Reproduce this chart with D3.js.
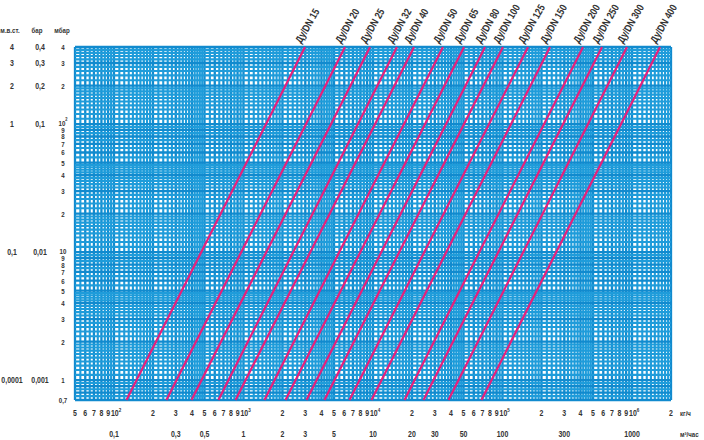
<!DOCTYPE html>
<html><head><meta charset="utf-8">
<script src="https://cdn.jsdelivr.net/npm/d3@7/dist/d3.min.js"></script>
<style>
body{margin:0;background:#fff;}
text{font-family:"Liberation Sans Narrow","Liberation Sans",Arial,sans-serif;fill:#333;font-weight:bold;}
</style></head>
<body>
<svg id="chart" width="704" height="440"></svg>
<script>
// ---- data ----
const dnLabels = ["Ду/DN 15","Ду/DN 20","Ду/DN 25","Ду/DN 32","Ду/DN 40","Ду/DN 50","Ду/DN 65","Ду/DN 80","Ду/DN 100","Ду/DN 125","Ду/DN 150","Ду/DN 200","Ду/DN 250","Ду/DN 300","Ду/DN 400"];
// flow (m³/h) at a pressure loss of 1 bar for each nominal diameter
const kvValues = [4.72, 9.61, 15.0, 24.2, 32.8, 54.9, 79.8, 115.9, 159.5, 248.9, 368, 662, 928, 1446, 2600];

const kgTicks = [50,60,70,80,90,100,200,300,400,500,600,700,800,900,1000,2000,3000,4000,5000,6000,7000,8000,9000,10000,20000,30000,40000,50000,60000,70000,80000,90000,100000,200000,300000,400000,500000,600000,700000,800000,900000,1000000,2000000];
const kgTickLabels = ["5","6","7","8","9","10^2","2","3","4","5","6","7","8","9","10^3","2","3","4","5","6","7","8","9","10^4","2","3","4","5","6","7","8","9","10^5","2","3","4","5","6","7","8","9","10^6","2"];
const m3Ticks = [0.1,0.3,0.5,1,2,3,5,10,20,30,50,100,300,1000];
const m3TickLabels = ["0,1","0,3","0,5","1","2","3","5","10","20","30","50","100","300","1000"];

const mbarTicks = [400,300,200,100,90,80,70,60,50,40,30,20,10,9,8,7,6,5,4,3,2,1,0.7];
const mbarTickLabels = ["4","3","2","10^2","9","8","7","6","5","4","3","2","10","9","8","7","6","5","4","3","2","1","0,7"];
const sideTicks = [400,300,200,100,10,1];
const mwcLabels = ["4","3","2","1","0,1","0,0001"];
const barLabels = ["0,4","0,3","0,2","0,1","0,01","0,001"];

// ---- layout ----
const svg = d3.select("#chart");
const x = d3.scaleLog().domain([50, 2000000]).range([75, 671]);
const y = d3.scaleLog().domain([0.7, 400]).range([400, 47]);
const NARROW = 0.82;

// grid
const grid = svg.append("g");
function fineValues(domain){
  const out = [];
  const lo = Math.floor(Math.log10(domain[0])), hi = Math.ceil(Math.log10(domain[1]));
  for (let e = lo; e <= hi; e++){
    const p = Math.pow(10, e);
    for (let m = 1; m < 10 - 1e-9; ){
      const v = m * p;
      if (v >= domain[0]*0.999 && v <= domain[1]*1.001) out.push({v, major: Math.abs(m - Math.round(m)) < 1e-9});
      m = +(m + (m < 2 ? 0.1 : m < 5 ? 0.2 : 0.5)).toFixed(3);
    }
  }
  return out;
}
grid.append("rect").attr("x", x.range()[0]).attr("y", y.range()[1])
  .attr("width", x.range()[1]-x.range()[0]).attr("height", y.range()[0]-y.range()[1]).attr("fill","#ffffff");
const xv = fineValues(x.domain()), yv = fineValues(y.domain());
grid.selectAll("line.v").data(xv).join("line")
  .attr("x1", d=>x(d.v)).attr("x2", d=>x(d.v)).attr("y1", y.range()[0]).attr("y2", y.range()[1])
  .attr("stroke", d=>d.major ? "#118ace" : "#1f9cda").attr("stroke-width", d=>d.major ? 2.3 : 2.1);
grid.selectAll("line.h").data(yv).join("line")
  .attr("y1", d=>y(d.v)).attr("y2", d=>y(d.v)).attr("x1", x.range()[0]).attr("x2", x.range()[1])
  .attr("stroke", d=>d.major ? "#118ace" : "#1f9cda").attr("stroke-width", d=>d.major ? 2.3 : 2.1);

// narrow text helper
function narrowText(px, py, str, size, anchor, extra){
  const g = svg.append("g").attr("transform", `translate(${px},${py}) ${extra || ""} scale(${NARROW},1)`);
  const t = g.append("text").attr("font-size", size).attr("text-anchor", anchor || "middle");
  if (str.includes("^")){
    const [b, e] = str.split("^");
    t.append("tspan").text(b);
    t.append("tspan").attr("dy", -4.5).attr("font-size", size*0.65).text(e);
  } else t.text(str);
  return t;
}

// DN lines: Q(kg/h) = kv*1000*sqrt(dp_mbar/1000)
const pEnds = y.domain();
const line = d3.line().x(d=>x(d[0])).y(d=>y(d[1]));
const dnG = svg.append("g");
kvValues.forEach((kv, i) => {
  const pts = pEnds.map(p => [kv*1000*Math.sqrt(p/1000), p]);
  dnG.append("path").attr("d", line(pts)).attr("fill","none").attr("stroke","#e5207c").attr("stroke-width",2.2);
  const top = pts[1];
  narrowText(x(top[0]) - 4, y(top[1]) - 3, dnLabels[i], 10.5, "start", "rotate(-60)").attr("fill","#222");
});

// bottom rows
kgTicks.forEach((v,i) => {
  const isPow = kgTickLabels[i].includes("^");
  narrowText(isPow ? x(v) - 3 : x(v), 416, kgTickLabels[i], 8.5, isPow ? "start" : "middle");
});
narrowText(680, 416, "кг/ч", 7.5, "start");
m3Ticks.forEach((v,i) => {
  narrowText(x(v*1000), 437, m3TickLabels[i], 8.5, "middle");
});
narrowText(680, 437, "м³/час", 7.5, "start");

// left columns
narrowText(10, 33, "м.в.ст.", 7.5);
narrowText(37, 33, "бар", 7.5);
narrowText(62, 33, "мбар", 7.5);
mbarTicks.forEach((v,i) => {
  const isPow = mbarTickLabels[i].includes("^") || mbarTickLabels[i] === "10";
  narrowText(63, y(v) + (isPow ? 1.5 : 3), mbarTickLabels[i], 7.5);
});
sideTicks.forEach((v,i) => {
  narrowText(12, y(v)+3, mwcLabels[i], 8.5);
  narrowText(40, y(v)+3, barLabels[i], 8.5);
});
</script>
</body></html>
